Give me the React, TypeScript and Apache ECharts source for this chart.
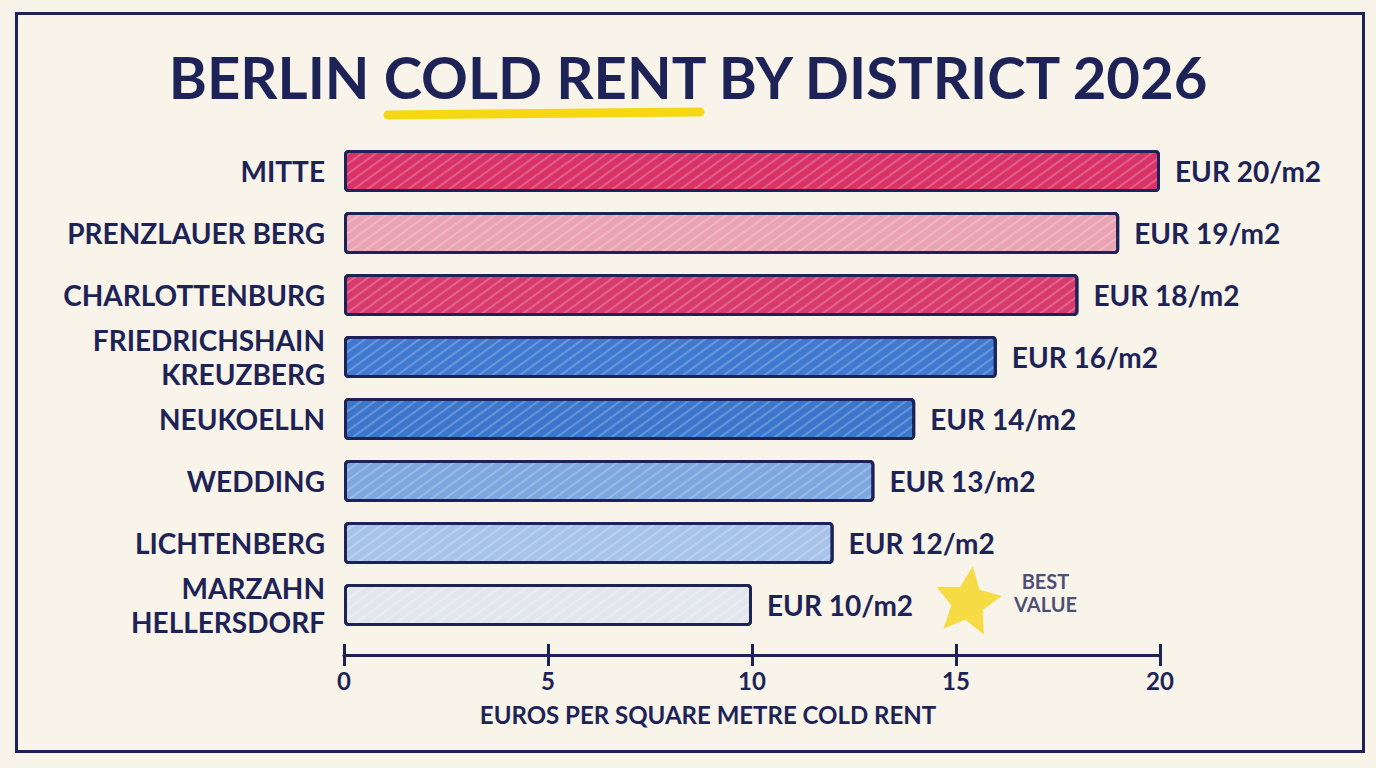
import React, { useEffect, useRef } from "react";
import * as echarts from "echarts";

const districts = [
  "MITTE",
  "PRENZLAUER BERG",
  "CHARLOTTENBURG",
  "FRIEDRICHSHAIN\nKREUZBERG",
  "NEUKOELLN",
  "WEDDING",
  "LICHTENBERG",
  "MARZAHN\nHELLERSDORF",
];
const rents = [20, 19, 18, 16, 14, 13, 12, 10];
const barColors = [
  "#d93268",
  "#eaa3b4",
  "#d83a6b",
  "#3f7ad0",
  "#3c76cc",
  "#7ea6df",
  "#a8c3e8",
  "#e2e7ee",
];
const xTicks = [0, 5, 10, 15, 20];
const bestValueDistrict = "MARZAHN\nHELLERSDORF";
const bestValueX = 15.3;

const NAVY = "#1d2356";
const FONT = "Lato, 'Open Sans', sans-serif";
const STAR =
  "path://M50 0 L64.1 30.6 L97.55 34.55 L72.8 57.4 L79.39 90.45 L50 74 L20.61 90.45 L27.2 57.4 L2.45 34.55 L35.9 30.6 Z";

export default function App() {
  const ref = useRef<HTMLDivElement>(null);
  useEffect(() => {
    if (!ref.current) return;
    const chart = echarts.init(ref.current, null, { renderer: "svg" });
    const axisCommon = {
      type: "value" as const,
      min: xTicks[0],
      max: xTicks[xTicks.length - 1],
      interval: xTicks[1] - xTicks[0],
      position: "bottom" as const,
      offset: 19,
      splitLine: { show: false },
    };
    chart.setOption({
      animation: false,
      backgroundColor: "#f8f4ea",
      grid: { left: 344, top: 140, width: 816, height: 496 },
      xAxis: [
        {
          ...axisCommon,
          axisLine: { show: true, lineStyle: { color: NAVY, width: 3 } },
          axisTick: { show: true, length: 11, lineStyle: { color: NAVY, width: 3 } },
          axisLabel: { color: NAVY, fontSize: 24, fontFamily: FONT, fontWeight: "bold", margin: 13 },
        },
        {
          ...axisCommon,
          axisLine: { show: false },
          axisTick: { show: true, inside: true, length: 11, lineStyle: { color: NAVY, width: 3 } },
          axisLabel: { show: false },
        },
      ],
      yAxis: {
        type: "category",
        data: districts,
        inverse: true,
        axisLine: { show: false },
        axisTick: { show: false },
        axisLabel: {
          color: NAVY,
          fontSize: 28,
          fontFamily: FONT,
          fontWeight: "bold",
          margin: 19,
          lineHeight: 34,
          align: "right",
        },
      },
      series: [
        {
          type: "bar",
          barWidth: 42,
          data: rents.map((v, i) => ({
            value: v,
            itemStyle: {
              color: barColors[i],
              decal: {
                symbol: "rect",
                color: "rgba(255,255,255,0.22)",
                dashArrayX: [1, 0],
                dashArrayY: [2, 6],
                rotation: -Math.PI / 5,
              },
            },
          })),
          itemStyle: { borderColor: NAVY, borderWidth: 3, borderRadius: 3 },
          label: {
            show: true,
            position: "right",
            distance: 15,
            formatter: "EUR {c}/m2",
            color: NAVY,
            fontSize: 28,
            fontFamily: FONT,
            fontWeight: "bold",
          },
        },
        {
          type: "scatter",
          data: [[bestValueX, bestValueDistrict]],
          symbol: STAR,
          symbolSize: 66,
          symbolRotate: -8,
          symbolOffset: [0, -6],
          itemStyle: { color: "#f6d51c" },
          label: {
            show: true,
            position: "right",
            distance: 10,
            formatter: "BEST\nVALUE",
            align: "center",
            offset: [30, -7],
            color: NAVY,
            fontSize: 20,
            lineHeight: 23,
            fontFamily: FONT,
            fontWeight: "bold",
          },
        },
      ],
      graphic: [
        {
          type: "rect",
          left: 14,
          top: 11,
          shape: { width: 1347, height: 738 },
          style: { fill: "none", stroke: NAVY, lineWidth: 3 },
          silent: true,
        },
        {
          type: "line",
          shape: { x1: 388, y1: 115, x2: 700, y2: 112 },
          style: { stroke: "#f5d714", lineWidth: 9, lineCap: "round" },
          silent: true,
        },
        {
          type: "text",
          x: 688,
          y: 76,
          style: {
            text: "BERLIN COLD RENT BY DISTRICT 2026",
            fill: NAVY,
            font: `bold 58px ${FONT}`,
            align: "center",
            verticalAlign: "middle",
          },
        },
        {
          type: "text",
          x: 708,
          y: 714,
          style: {
            text: "EUROS PER SQUARE METRE COLD RENT",
            fill: NAVY,
            font: `bold 24px ${FONT}`,
            align: "center",
            verticalAlign: "middle",
          },
        },
      ],
    });
    return () => chart.dispose();
  }, []);
  return (
    <div style={{ position: "fixed", left: 0, top: 0, width: 1376, height: 768, background: "#f8f4ea" }}>
      <div ref={ref} style={{ width: 1376, height: 768 }} />
    </div>
  );
}
